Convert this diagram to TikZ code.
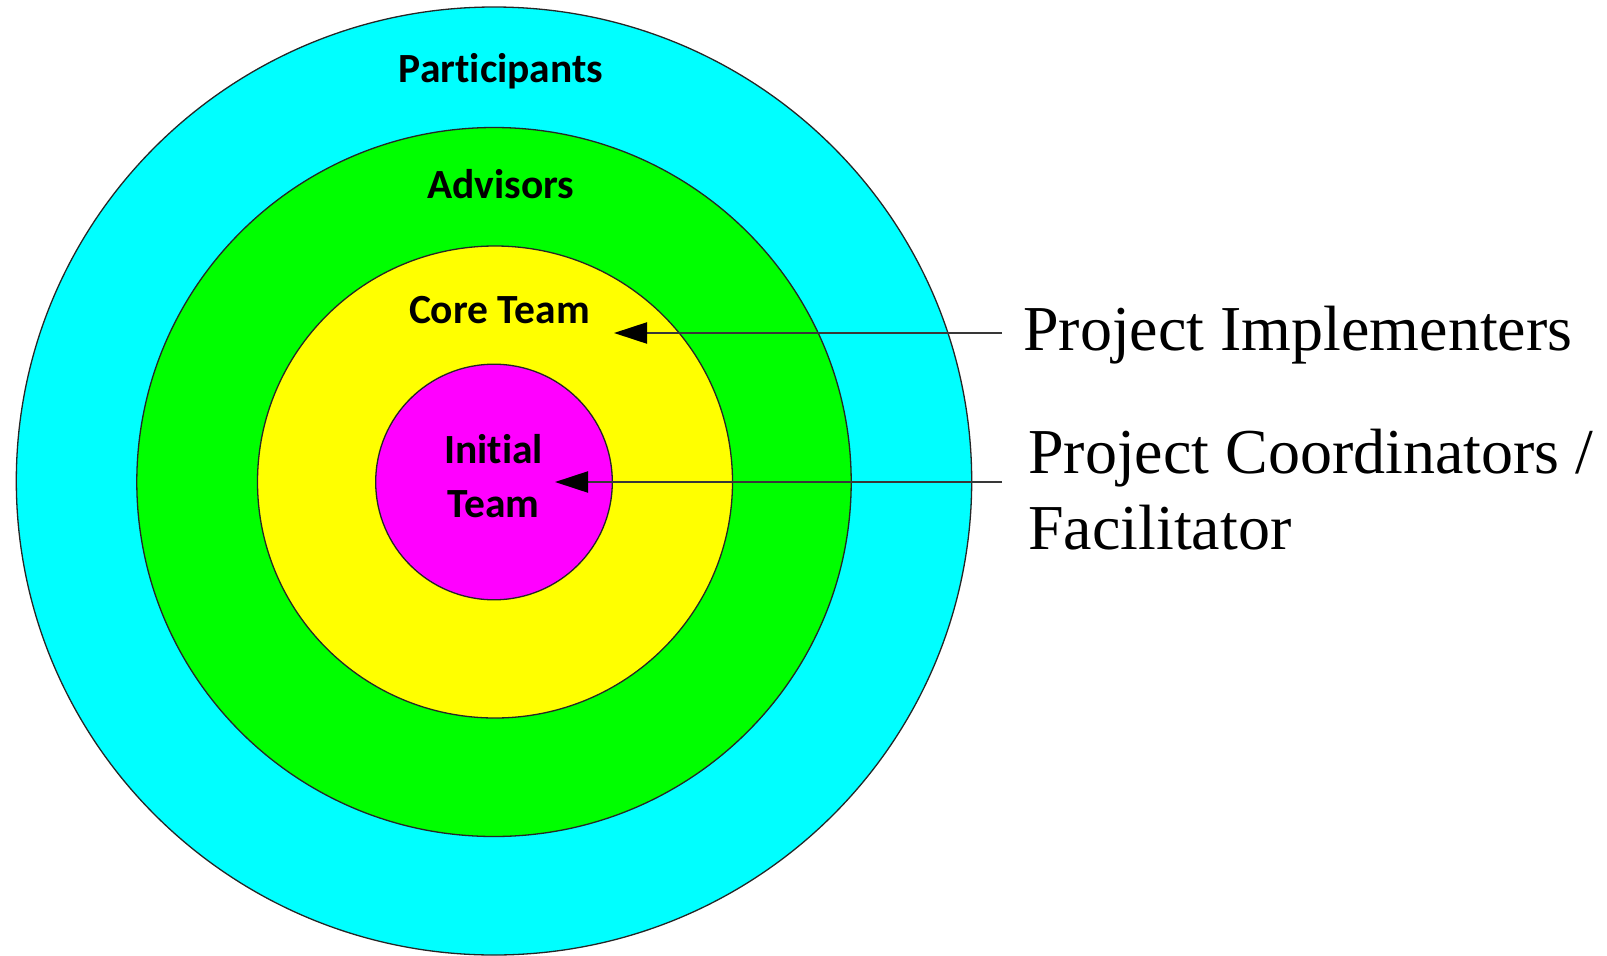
\documentclass[tikz,border=0pt]{standalone}
\usepackage{fontspec}
\setmainfont{Liberation Serif}
\newfontfamily\ringfont[Ligatures=NoCommon]{Carlito}
\usetikzlibrary{shapes.geometric,arrows.meta}

\definecolor{ringcyan}{HTML}{00FFFF}
\definecolor{ringgreen}{HTML}{00FF00}
\definecolor{ringyellow}{HTML}{FFFF00}
\definecolor{ringmagenta}{HTML}{FF00FF}

\tikzset{
  ring/.style={ellipse, draw=black!85, line width=1.3pt, inner sep=0pt},
  ringlabel/.style={font=\ringfont\bfseries\fontsize{41.5}{48}\selectfont, inner sep=0pt, anchor=base},
  sidelabel/.style={font=\fontsize{64}{76}\selectfont, inner sep=0pt, anchor=base west},
  pointer/.style={draw=black!78, line width=2.2pt,
    -{Triangle[length=33pt,width=21pt,color=black]}}
}

\begin{document}
\begin{tikzpicture}[x=1pt,y=-1pt]
  \useasboundingbox (0,0) rectangle (1607,956);

  % concentric rings, outermost first
  \node[ring, fill=ringcyan,    minimum width=955.4pt, minimum height=948pt] (outer)  at (494,481) {};
  \node[ring, fill=ringgreen,   minimum width=714.4pt, minimum height=709pt] (advis)  at (494,482) {};
  \node[ring, fill=ringyellow,  minimum width=475pt,   minimum height=472pt] (core)   at (495,482) {};
  \node[ring, fill=ringmagenta, minimum width=236.6pt, minimum height=235.6pt] (inner) at (494,482) {};

  % ring names
  \node[ringlabel] (lpart)  at (501,82.7)  {Participants};
  \node[ringlabel] (ladv)   at (501,198.3) {Advisors};
  \node[ringlabel] (lcore)  at (499.5,323.3) {Core Team};
  \node[ringlabel] (linit1) at (493.7,463.3) {Initial};
  \node[ringlabel] (linit2) at (493.3,517.3) {Team};

  % role descriptions on the right
  \node[sidelabel] (impl)   at (1023,350) {Project Implementers};
  \node[sidelabel] (coord1) at (1028,473) {Project Coordinators /};
  \node[sidelabel] (coord2) at (1028,549) {Facilitator};

  % pointers from the role descriptions into the rings
  \coordinate (implEnd)  at (1002,333);
  \coordinate (coreTip)  at (614,333);
  \coordinate (coordEnd) at (1002,482);
  \coordinate (initTip)  at (555,482);

  \draw[pointer] (implEnd) -- (coreTip);
  \draw[pointer] (coordEnd) -- (initTip);
\end{tikzpicture}
\end{document}
